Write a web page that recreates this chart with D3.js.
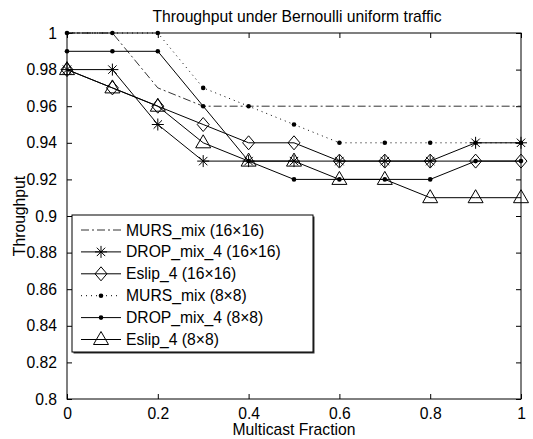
<!DOCTYPE html>
<html>
<head>
<meta charset="utf-8">
<script src="https://cdn.jsdelivr.net/npm/d3@7"></script>
<style>
  body { margin: 0; background: #fff; }
  svg { font-family: "Liberation Sans", Arial, sans-serif; }
</style>
</head>
<body>
<svg width="533" height="439"></svg>
<script>
// data
var fractions = [0, 0.1, 0.2, 0.3, 0.4, 0.5, 0.6, 0.7, 0.8, 0.9, 1]
var murs16 = [1, 1, 0.97, 0.96, 0.96, 0.96, 0.96, 0.96, 0.96, 0.96, 0.96]
var drop16 = [0.98, 0.98, 0.95, 0.93, 0.93, 0.93, 0.93, 0.93, 0.93, 0.94, 0.94]
var eslip16 = [0.98, 0.97, 0.96, 0.95, 0.94, 0.94, 0.93, 0.93, 0.93, 0.93, 0.93]
var murs8 = [1, 1, 1, 0.97, 0.96, 0.95, 0.94, 0.94, 0.94, 0.94, 0.94]
var drop8 = [0.99, 0.99, 0.99, 0.96, 0.93, 0.92, 0.92, 0.92, 0.92, 0.93, 0.93]
var eslip8 = [0.98, 0.97, 0.96, 0.94, 0.93, 0.93, 0.92, 0.92, 0.91, 0.91, 0.91]
var xTicks = [0, 0.2, 0.4, 0.6, 0.8, 1]
var yTicks = [0.8, 0.82, 0.84, 0.86, 0.88, 0.9, 0.92, 0.94, 0.96, 0.98, 1]

var series = [
  {name: "MURS_mix (16\u00d716)", values: murs16, dash: "8,3,2,3", marker: "none"},
  {name: "DROP_mix_4 (16\u00d716)", values: drop16, dash: null, marker: "star"},
  {name: "Eslip_4 (16\u00d716)", values: eslip16, dash: null, marker: "diamond"},
  {name: "MURS_mix (8\u00d78)", values: murs8, dash: "1,4", marker: "dot"},
  {name: "DROP_mix_4 (8\u00d78)", values: drop8, dash: null, marker: "dot"},
  {name: "Eslip_4 (8\u00d78)", values: eslip8, dash: null, marker: "triangle"}
]

const FS = 15.7
const M = {left: 67, right: 521, top: 33, bottom: 399}

const x = d3.scaleLinear().domain([0, 1]).range([M.left, M.right])
const y = d3.scaleLinear().domain([0.8, 1]).range([M.bottom, M.top])

const svg = d3.select("svg")

// title and labels
svg.append("text").attr("x", (M.left + M.right) / 2 + 3).attr("y", 22)
  .attr("text-anchor", "middle").attr("font-size", FS).text("Throughput under Bernoulli uniform traffic")
svg.append("text").attr("x", (M.left + M.right) / 2).attr("y", 435)
  .attr("text-anchor", "middle").attr("font-size", FS).text("Multicast Fraction")
svg.append("text").attr("transform", "translate(25," + (M.top + M.bottom) / 2 + ") rotate(-90)")
  .attr("text-anchor", "middle").attr("font-size", FS).text("Throughput")

// axes, ticks inward like matlab
function styleAxis(g) {
  g.select(".domain").remove()
  g.selectAll("line").attr("stroke", "#000")
  g.selectAll("text").attr("font-size", FS).attr("fill", "#000")
}
svg.append("g").attr("transform", `translate(0,${M.bottom})`)
  .call(d3.axisBottom(x).tickValues(xTicks).tickFormat(d3.format("")).tickSizeInner(-5).tickPadding(9))
  .call(styleAxis)
svg.append("g").attr("transform", `translate(0,${M.top})`)
  .call(d3.axisTop(x).tickValues(xTicks).tickFormat("").tickSizeInner(-5))
  .call(styleAxis)
svg.append("g").attr("transform", `translate(${M.left},0)`)
  .call(d3.axisLeft(y).tickValues(yTicks).tickFormat(d3.format("")).tickSizeInner(-5).tickPadding(10))
  .call(styleAxis)
svg.append("g").attr("transform", `translate(${M.right},0)`)
  .call(d3.axisRight(y).tickValues(yTicks).tickFormat("").tickSizeInner(-5))
  .call(styleAxis)

function drawMarker(g, type, cx, cy) {
  if (type == "star") {
    var r = 6
    g.append("path").attr("fill", "none").attr("stroke", "#000").attr("stroke-width", 1)
      .attr("d", `M${cx - r},${cy}L${cx + r},${cy}M${cx},${cy - r}L${cx},${cy + r}` +
        `M${cx - r * 0.7},${cy - r * 0.7}L${cx + r * 0.7},${cy + r * 0.7}M${cx - r * 0.7},${cy + r * 0.7}L${cx + r * 0.7},${cy - r * 0.7}`)
  } else if (type == "diamond") {
    var r = 7
    g.append("path").attr("fill", "none").attr("stroke", "#000").attr("stroke-width", 1)
      .attr("d", `M${cx},${cy - r}L${cx + r * 0.85},${cy}L${cx},${cy + r}L${cx - r * 0.85},${cy}Z`)
  } else if (type == "triangle") {
    g.append("path").attr("fill", "none").attr("stroke", "#000").attr("stroke-width", 1)
      .attr("d", `M${cx},${cy - 8}L${cx + 7.5},${cy + 5}L${cx - 7.5},${cy + 5}Z`)
  } else if (type == "dot") {
    g.append("circle").attr("cx", cx).attr("cy", cy).attr("r", 2.3).attr("fill", "#000")
  }
}

const line = d3.line().x((d, i) => x(fractions[i])).y(d => y(d))

series.forEach(function(s) {
  var g = svg.append("g")
  g.append("path").datum(s.values).attr("d", line)
    .attr("fill", "none").attr("stroke", s.marker == "none" ? "#333" : "#000")
    .attr("stroke-width", 1).attr("stroke-dasharray", s.dash)
  s.values.forEach(function(v, i) { drawMarker(g, s.marker, x(fractions[i]), y(v)) })
})

// frame
svg.append("rect").attr("x", M.left).attr("y", M.top)
  .attr("width", M.right - M.left).attr("height", M.bottom - M.top)
  .attr("fill", "none").attr("stroke", "#000").attr("stroke-width", 1)

// legend
const L = {x: 72, y: 215, w: 241, h: 137}
const lg = svg.append("g")
lg.append("rect").attr("x", L.x + 1.5).attr("y", L.y + 1.5).attr("width", L.w).attr("height", L.h).attr("fill", "#333")
lg.append("rect").attr("x", L.x).attr("y", L.y).attr("width", L.w).attr("height", L.h)
  .attr("fill", "#fff").attr("stroke", "#000").attr("stroke-width", 1)
series.forEach(function(s, i) {
  var cy = 230 + i * 21.9
  lg.append("line").attr("x1", 81).attr("x2", 121).attr("y1", cy).attr("y2", cy)
    .attr("stroke", s.marker == "none" ? "#333" : "#000").attr("stroke-width", 1).attr("stroke-dasharray", s.dash)
  drawMarker(lg, s.marker, 101, cy)
  lg.append("text").attr("x", 126).attr("y", cy + 5.5).attr("font-size", FS).text(s.name)
})
</script>
</body>
</html>
